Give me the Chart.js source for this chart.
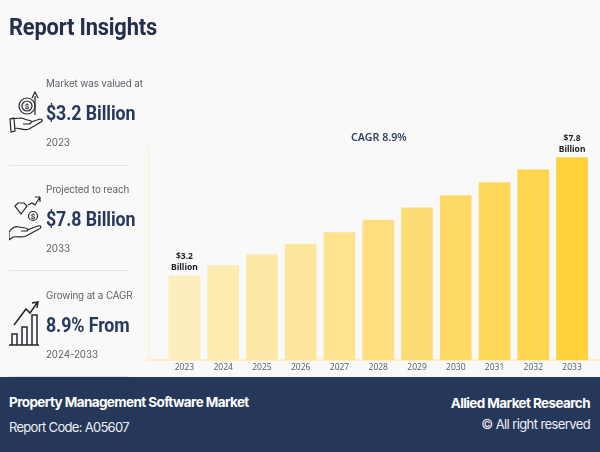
<!DOCTYPE html>
<html>
<head>
<meta charset="utf-8">
<script src="https://cdn.jsdelivr.net/npm/chart.js@4/dist/chart.umd.min.js"></script>
<style>
    html, body { margin: 0; padding: 0; background: #f9f9f9; }
    #page { position: relative; width: 600px; height: 452px; overflow: hidden; font-family: Roboto, sans-serif; }
    #page canvas { position: absolute; left: 0; top: 0; }
    .txt { position: absolute; white-space: nowrap; line-height: 1; }
    .small { left: 46px; font-family: Inter; font-size: 9.8px; color: #5c5f66; letter-spacing: -0.1px; }
    .big { left: 46px; font-size: 20px; font-weight: 700; color: #26395c; letter-spacing: -0.1px; transform: scaleX(0.89); transform-origin: left; }
    .rule { position: absolute; left: 9px; width: 120px; height: 1px; background: #e3e3e3; }
    .icon { position: absolute; left: 9px; width: 34px; height: 48px; fill: none; stroke: #24272e; stroke-width: 1.2; }
    .icon text { font: bold 8px Roboto; fill: #24272e; stroke: none; text-anchor: middle; }
    #footer { position: absolute; left: 0; top: 377px; width: 600px; height: 75px; background: #26385a; color: #fff; }
</style>
</head>
<body>
<div id="page">
    <canvas id="chart" width="600" height="452"></canvas>

    <div class="txt" style="left:9px;top:16px;font-size:23px;font-weight:700;color:#232f4b;letter-spacing:-0.2px;transform:scaleX(0.95);transform-origin:left">Report Insights</div>

    <div class="txt small" style="top:79px">Market was valued at</div>
    <div class="txt big" style="top:103px">$3.2 Billion</div>
    <div class="txt small" style="top:138px">2023</div>
    <div class="rule" style="top:165px"></div>

    <div class="txt small" style="top:185px">Projected to reach</div>
    <div class="txt big" style="top:209px">$7.8 Billion</div>
    <div class="txt small" style="top:244px">2033</div>
    <div class="rule" style="top:270px"></div>

    <div class="txt small" style="top:291px">Growing at a CAGR</div>
    <div class="txt big" style="top:315px">8.9% From</div>
    <div class="txt small" style="top:350px">2024-2033</div>
    <div class="rule" style="top:376px"></div>

    <svg class="icon" style="top:90px" viewBox="0 0 34 48">
        <circle cx="18" cy="16" r="8"/><circle cx="18" cy="16" r="5"/>
        <text x="18" y="19">$</text>
        <path d="M26 25V6M23 8l3-6 3 6M1 29l11-1c3 0 4 2 7 2l3 1c1 2-1 3-3 3h-5M22 32l9-3c3 0 3 2 1 3l-12 7c-5 2-9-1-14-1M1 29l1 13 4-1-1-13z"/>
    </svg>
    <svg class="icon" style="top:195px" viewBox="0 0 34 48">
        <path d="M6 11l3-3h6l3 3-6 8zM19 10l4-2 3 2 5-8M31 2v5M26 2h5"/>
        <circle cx="24" cy="21" r="4.500"/>
        <text x="24" y="24">$</text>
        <path d="M0 44v-7c3-4 7-6 10-5l6 1c3 0 4 3 1 3h-5M18 35l11-4c3-1 4 2 1 3l-13 7c-5 2-9 0-13 1l-4 3"/>
    </svg>
    <svg class="icon" style="top:300px" viewBox="0 0 34 48">
        <path d="M0 45h30M3 45V34h5v11M13 45V27h5v18M23 45V15h5v30M5 25l12-16 4 4 7-10M23 3l6-1-1 6" stroke-width="1.500"/>
    </svg>

    <div class="txt" style="left:351px;top:132px;font-family:'Noto Sans';font-size:10.7px;font-weight:600;color:#2f4468">CAGR 8.9%</div>

    <div id="footer">
        <div class="txt" style="left:9px;top:19px;font-family:Inter;font-size:13.5px;font-weight:700;letter-spacing:-0.6px">Property Management Software Market</div>
        <div class="txt" style="left:9px;top:44px;font-family:Inter;font-size:13px;letter-spacing:-0.7px;color:#eef0f4">Report Code: A05607</div>
        <div class="txt" style="right:10px;top:20px;font-family:Inter;font-size:13.5px;font-weight:700;letter-spacing:-0.6px">Allied Market Research</div>
        <div class="txt" style="right:10px;top:41px;font-family:Inter;font-size:13px;letter-spacing:-0.6px;color:#eef0f4">© All right reserved</div>
    </div>
</div>

<script>
const years = [2023, 2024, 2025, 2026, 2027, 2028, 2029, 2030, 2031, 2032, 2033];
const values = [3.2, 3.59, 4.01, 4.43, 4.87, 5.36, 5.84, 6.32, 6.82, 7.32, 7.8];
const barLabels = { 2023: ['$3.2', 'Billion'], 2033: ['$7.8', 'Billion'] };
const barColors = ['#feedbd', '#feebb0', '#fee8a6', '#fee59c', '#fee28e', '#fede7f', '#fedc74', '#fed966', '#fed75a', '#fed54c', '#ffd239'];

// writes the two line value labels on top of the first and last bar
const labelPlugin = {
    id: 'barLabels',
    afterDatasetsDraw(chart) {
        const ctx = chart.ctx;
        const bars = chart.getDatasetMeta(0).data;
        ctx.save();
        ctx.font = "bold 8.5px 'Noto Sans'";
        ctx.fillStyle = '#1c1f26';
        ctx.textAlign = 'center';
        ctx.textBaseline = 'middle';
        bars.forEach(function (bar, i) {
            const label = barLabels[years[i]];
            if (!label) return;
            ctx.fillText(label[0], bar.x, bar.y - 19);
            ctx.fillText(label[1], bar.x, bar.y - 8);
        });
        ctx.restore();
    }
};

new Chart(document.getElementById('chart'), {
    type: 'bar',
    data: {
        datasets: [{
            data: years.map(function (y, i) { return { x: y, y: values[i] }; }),
            backgroundColor: barColors,
            base: -0.094,
            barThickness: 31
        }]
    },
    options: {
        responsive: false,
        animation: false,
        layout: { padding: { left: 147, top: 146, right: 0, bottom: 72 } },
        plugins: { legend: { display: false }, tooltip: { enabled: false } },
        scales: {
            x: {
                type: 'linear',
                offset: false,
                min: 2022.06,
                max: 2033.72,
                afterBuildTicks: function (scale) {
                    scale.ticks = years.map(function (y) { return { value: y }; });
                },
                afterFit: function (scale) { scale.height = 20; },
                grid: { display: false, drawTicks: false, tickLength: 0 },
                border: { color: '#fdeec4', width: 2 },
                ticks: {
                    autoSkip: false,
                    maxRotation: 0,
                    padding: 2,
                    color: '#555a62',
                    font: { family: 'Open Sans', size: 8.5 },
                    callback: function (v) { return String(v); }
                }
            },
            y: {
                min: -0.094,
                max: 8.25,
                afterFit: function (scale) { scale.width = 1; },
                grid: { display: false },
                border: { color: '#fdeec4', width: 1 },
                ticks: { display: false }
            }
        }
    },
    plugins: [labelPlugin]
});
</script>
</body>
</html>
